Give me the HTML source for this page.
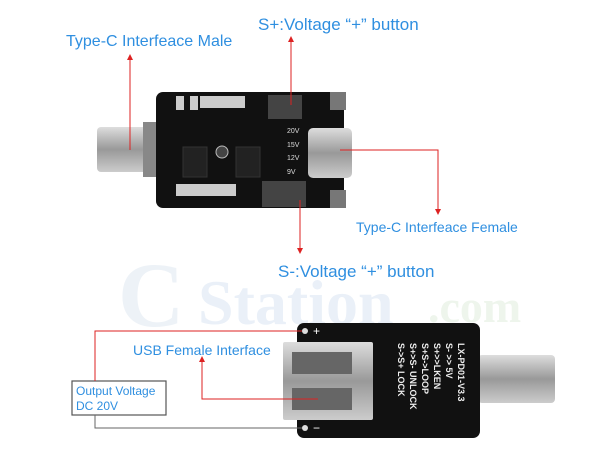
<!DOCTYPE html>
<html><head><meta charset="utf-8"><style>
html,body{margin:0;padding:0;background:#fff;width:600px;height:450px;overflow:hidden}
svg{display:block}
text{font-family:"Liberation Sans",sans-serif}
text.wm{font-family:"Liberation Serif",serif}
</style></head><body>
<svg width="600" height="450" viewBox="0 0 600 450" xmlns="http://www.w3.org/2000/svg">
<defs>
<marker id="ar" markerWidth="6" markerHeight="6" refX="3" refY="3" orient="auto"><path d="M0,0 L6,3 L0,6 z" fill="#d22"/></marker>
<linearGradient id="met" x1="0" y1="0" x2="0" y2="1"><stop offset="0" stop-color="#ddd"/><stop offset="0.5" stop-color="#999"/><stop offset="1" stop-color="#ccc"/></linearGradient>
</defs>
<!-- watermark -->
<text class="wm" x="118" y="326" font-size="92" font-weight="bold" fill="#edf2f7">C</text>
<text class="wm" x="198" y="324" font-size="64" font-weight="bold" fill="#eaf0f8">Station</text>
<text class="wm" x="428" y="322" font-size="46" font-weight="bold" fill="#eef5ec">.com</text>

<!-- labels -->
<text x="66" y="46" font-size="16" fill="#2f8fe0">Type-C Interfeace Male</text>
<text x="258" y="30" font-size="17" fill="#2f8fe0">S+:Voltage “+” button</text>
<text x="356" y="232" font-size="14" fill="#2f8fe0">Type-C Interfeace Female</text>
<text x="278" y="277" font-size="17" fill="#2f8fe0">S-:Voltage “+” button</text>
<text x="133" y="355" font-size="14" fill="#2f8fe0">USB Female Interface</text>

<!-- top board -->
<rect x="97" y="127" width="62" height="45" rx="4" fill="url(#met)"/>
<rect x="143" y="122" width="20" height="55" fill="#888"/>
<rect x="156" y="92" width="188" height="116" rx="7" fill="#111"/>
<rect x="330" y="92" width="16" height="18" fill="#777"/>
<rect x="330" y="190" width="16" height="18" fill="#777"/>
<rect x="268" y="95" width="34" height="24" fill="#444"/>
<rect x="262" y="181" width="44" height="26" fill="#444"/>
<rect x="183" y="147" width="24" height="30" fill="#222" stroke="#333"/>
<rect x="236" y="147" width="24" height="30" fill="#222" stroke="#333"/>
<circle cx="222" cy="152" r="6" fill="#444" stroke="#bbb"/>
<rect x="308" y="128" width="44" height="50" rx="5" fill="url(#met)"/>
<text x="287" y="133" font-size="7" fill="#ddd">20V</text>
<text x="287" y="147" font-size="7" fill="#ddd">15V</text>
<text x="287" y="160" font-size="7" fill="#ddd">12V</text>
<text x="287" y="174" font-size="7" fill="#ddd">9V</text>
<g fill="#ccc"><rect x="176" y="96" width="8" height="14"/><rect x="190" y="96" width="8" height="14"/><rect x="176" y="184" width="60" height="12"/><rect x="200" y="96" width="45" height="12"/></g>

<!-- top connectors -->
<g stroke="#d22" stroke-width="1" fill="none">
<path d="M130,150 L130,57" marker-end="url(#ar)"/>
<path d="M291,105 L291,39" marker-end="url(#ar)"/>
<path d="M340,150 L438,150 L438,212" marker-end="url(#ar)"/>
<path d="M300,200 L300,251" marker-end="url(#ar)"/>
</g>

<!-- bottom board -->
<rect x="478" y="355" width="77" height="48" rx="4" fill="url(#met)"/>
<rect x="297" y="323" width="183" height="115" rx="7" fill="#111"/>
<rect x="283" y="342" width="90" height="78" rx="2" fill="url(#met)"/>
<rect x="292" y="352" width="60" height="22" fill="#666"/>
<rect x="292" y="388" width="60" height="22" fill="#666"/>
<circle cx="305" cy="331" r="3" fill="#ddd"/>
<circle cx="305" cy="428" r="3" fill="#ddd"/>
<text x="313" y="335" font-size="12" fill="#fff">+</text>
<text x="313" y="432" font-size="12" fill="#fff">−</text>
<g transform="translate(388,343) rotate(90)" font-size="9" font-weight="bold" fill="#eee">
<text x="0" y="-70">LX-PD01-V3.3</text>
<text x="0" y="-58">S-  &gt;&gt; 5V</text>
<text x="0" y="-46">S+&gt;&gt;LKEN</text>
<text x="0" y="-34">S+S-&gt;LOOP</text>
<text x="0" y="-22">S+&gt;S- UNLOCK</text>
<text x="0" y="-10">S-&gt;S+ LOCK</text>
</g>

<!-- bottom wires -->
<rect x="72" y="381" width="94" height="34" fill="#fff" stroke="#555" stroke-width="1.2"/>
<text x="76" y="395" font-size="12" fill="#2f8fe0">Output  Voltage</text>
<text x="76" y="410" font-size="12" fill="#2f8fe0">DC 20V</text>
<g fill="none">
<path d="M95,381 L95,331 L302,331" stroke="#d22"/>
<path d="M95,415 L95,428 L302,428" stroke="#666"/>
<path d="M318,399 L202,399 L202,359" stroke="#d22" marker-end="url(#ar)"/>
</g>
</svg>
</body></html>
